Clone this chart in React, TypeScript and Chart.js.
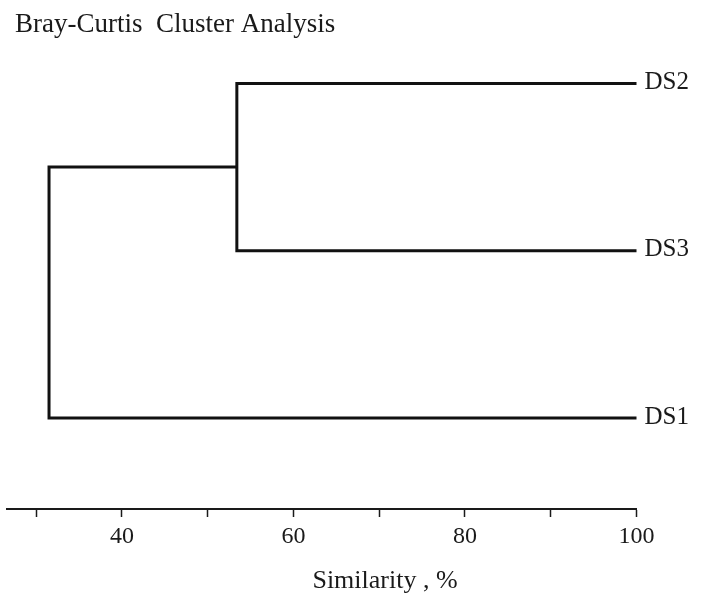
import React, { useEffect, useRef } from "react";
import { Chart, registerables } from "chart.js";

Chart.register(...registerables);

// ---- data ----
const chartTitle = "Bray-Curtis  Cluster Analysis";
const axisTitle = "Similarity , %";
const leafLabels = ["DS2", "DS3", "DS1"];
const leafPositions = [3, 2, 1];
const leafSimilarity = 100;
const mergeChildren = [
  ["DS2", "DS3"],
  ["DS2+DS3", "DS1"],
];
const mergeSimilarity = [53.4, 31.5];
const tickValues = [30, 40, 50, 60, 70, 80, 90, 100];
const tickLabels = [40, 60, 80, 100];

const FONT = "'Liberation Serif', 'Times New Roman', serif";
const LINE = "#111111";

function buildSegments() {
  const nodes: Record<string, { x: number; y: number }> = {};
  leafLabels.forEach((l, i) => {
    nodes[l] = { x: leafSimilarity, y: leafPositions[i] };
  });
  const paths: { x: number; y: number }[][] = [];
  mergeChildren.forEach(([a, b], i) => {
    const s = mergeSimilarity[i];
    const na = nodes[a];
    const nb = nodes[b];
    paths.push([
      { x: na.x, y: na.y },
      { x: s, y: na.y },
      { x: s, y: nb.y },
      { x: nb.x, y: nb.y },
    ]);
    nodes[a + "+" + b] = { x: s, y: (na.y + nb.y) / 2 };
  });
  return paths;
}

const textPlugin = {
  id: "dendroText",
  afterDraw(chart: any) {
    const ctx = chart.ctx;
    const xs = chart.scales.x;
    const ys = chart.scales.y;
    ctx.save();
    ctx.fillStyle = "#1a1a1a";
    // title
    ctx.font = `27px ${FONT}`;
    ctx.textAlign = "left";
    ctx.textBaseline = "alphabetic";
    ctx.fillText(chartTitle, 15, 32);
    // leaf labels
    ctx.font = `25px ${FONT}`;
    ctx.textBaseline = "middle";
    leafLabels.forEach((l, i) => {
      ctx.fillText(l, xs.getPixelForValue(leafSimilarity) + 8, ys.getPixelForValue(leafPositions[i]) - 1);
    });
    // axis title
    ctx.font = `26px ${FONT}`;
    ctx.textAlign = "center";
    ctx.textBaseline = "alphabetic";
    ctx.fillText(axisTitle, 385, 588);
    ctx.restore();
  },
};

export default function App() {
  const ref = useRef<HTMLCanvasElement | null>(null);
  useEffect(() => {
    if (!ref.current) return;
    const paths = buildSegments();
    const chart = new Chart(ref.current, {
      type: "scatter",
      data: {
        datasets: paths.map((p) => ({
          data: p,
          showLine: true,
          pointRadius: 0,
          borderColor: LINE,
          borderWidth: 3,
          borderJoinStyle: "miter" as const,
          borderCapStyle: "butt" as const,
          clip: false as any,
        })),
      },
      options: {
        animation: false,
        responsive: false,
        devicePixelRatio: 1,
        layout: { padding: { left: 7, right: 69.5, top: 8, bottom: 0 } },
        plugins: {
          legend: { display: false },
          tooltip: { enabled: false },
          title: { display: false },
        },
        scales: {
          x: {
            type: "linear",
            min: 26.6,
            max: 100,
            afterBuildTicks: (scale: any) => {
              scale.ticks = tickValues.map((v) => ({ value: v }));
            },
            afterFit: (scale: any) => {
              scale.height = 88;
            },
            border: { display: true, color: "#1a1a1a", width: 2 },
            grid: {
              display: true,
              drawOnChartArea: false,
              drawTicks: true,
              tickLength: 8,
              tickColor: "#1a1a1a",
              tickWidth: 1.5,
            },
            ticks: {
              autoSkip: false,
              maxRotation: 0,
              padding: 5,
              color: "#1a1a1a",
              font: { family: FONT, size: 24 },
              callback: (v: any) => (tickLabels.includes(Number(v)) ? String(v) : ""),
            },
          },
          y: {
            type: "linear",
            display: false,
            min: 0.456,
            max: 3.451,
          },
        },
      },
      plugins: [textPlugin],
    });
    return () => chart.destroy();
  }, []);
  return (
    <div style={{ position: "absolute", left: 0, top: 0, width: 706, height: 597, background: "#fff" }}>
      <canvas ref={ref} width={706} height={597} style={{ display: "block" }} />
    </div>
  );
}
